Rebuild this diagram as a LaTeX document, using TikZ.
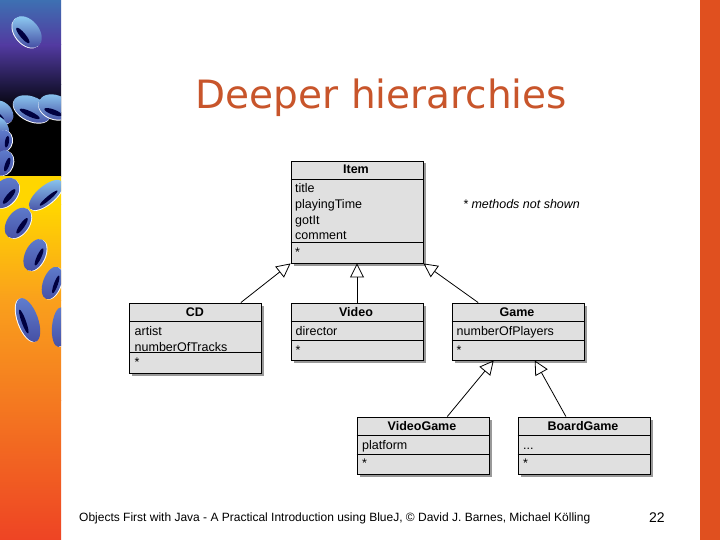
\documentclass[tikz,border=0pt]{standalone}
\usepackage{fontspec}
\setmainfont{Liberation Sans}
\newfontfamily\titlefont{DejaVu Sans}
\usetikzlibrary{arrows.meta,shadows}

\definecolor{bandA}{RGB}{62,112,178}
\definecolor{bandB}{RGB}{82,58,160}
\definecolor{bandC}{RGB}{30,24,66}
\definecolor{bandD}{RGB}{0,0,0}
\definecolor{bandE}{RGB}{255,214,0}
\definecolor{bandF}{RGB}{250,160,28}
\definecolor{bandG}{RGB}{244,122,32}
\definecolor{bandH}{RGB}{238,68,36}
\definecolor{sidebar}{RGB}{224,80,31}
\definecolor{headline}{RGB}{200,85,43}
\definecolor{classgray}{RGB}{224,224,224}
\definecolor{pillLight}{RGB}{140,200,240}
\definecolor{pillMid}{RGB}{95,125,205}
\definecolor{pillDark}{RGB}{70,80,165}

\tikzset{
	classbox/.style = {draw, line width = 0.9pt, fill = classgray, minimum width = 132pt, inner sep = 0pt,
			drop shadow = {shadow xshift = 2.5pt, shadow yshift = -2.5pt, fill = black, opacity = 0.4}},
	classname/.style = {anchor = base, inner sep = 0pt, font = \fontsize{12.5}{15}\selectfont\bfseries},
	attr/.style = {anchor = base west, inner sep = 0pt, font = \fontsize{12.5}{15}\selectfont},
	isa/.style = {-{Triangle[open, length = 14pt, width = 14pt]}, line width = 0.8pt}
}

\begin{document}
\begin{tikzpicture}[x = 1pt, y = -1pt]
			      \useasboundingbox (0,0) rectangle (720,540);
			      \fill [white] (0,0) rectangle (720,540);

			      \foreach \ya/\yb/\ca/\cb in {0/45/bandA/bandB, 45/85/bandB/bandC, 85/113/bandC/bandD, 113/177/bandD/bandD,
					      177/205/bandE/bandE, 205/300/bandE/bandF, 300/400/bandF/bandG, 400/540/bandG/bandH}{
					      \shade [top color = \ca, bottom color = \cb] (0,\ya) rectangle (61,\yb);
				      }
			      \fill [sidebar] (700,0) rectangle (720,540);

			      \begin{scope}
				      \clip (0,0) rectangle (61,540);
				      \foreach \px/\py/\ra/\rb/\rr/\pc in {27/32/18/12/-50/pillLight, 1/112/14/10/-40/pillLight, 32/109/20/12/-25/pillLight, 55/107/17/12/-20/pillLight,
						      -1/128/13/9/-60/pillLight, 3/141/11/9/80/pillMid, 3/163/13/10/70/pillMid, 5/193/17/12/50/pillMid, 46/195/21/9/40/pillLight,
						      18/223/17/11/55/pillMid, 35/255/17/10/65/pillMid, 52/283/17/9/70/pillMid, 28/320/23/10/-70/pillMid, 60/327/20/8/85/pillMid}{
						      \begin{scope}[shift = {(\px,\py)}, rotate = \rr]
							      \fill [white] (0,1) ellipse ({\ra} and {\rb});
							      \shade [top color = \pc, bottom color = pillDark] (0,0) ellipse ({\ra} and {\rb});
							      \fill [black!75!blue] (0,{\rb*0.45}) ellipse ({\ra*0.55} and {\rb*0.22});
						      \end{scope}
					      }
			      \end{scope}

			      \node (title) [text = headline, font = \titlefont\fontsize{39}{46}\selectfont, anchor = base] at (381.5,109) {Deeper hierarchies};

			      \node (item) [classbox, minimum height = 102pt] at (357,212) {};
			      \node (cd) [classbox, minimum height = 70pt] at (195.5,338) {};
			      \node (video) [classbox, minimum height = 57pt] at (357,331.5) {};
			      \node (game) [classbox, minimum height = 57pt] at (518,331.5) {};
			      \node (videogame) [classbox, minimum height = 57pt] at (423,445.5) {};
			      \node (boardgame) [classbox, minimum height = 57pt] at (584,445.5) {};

			      \foreach \n/\ha/\hb in {item/19/82, cd/19/50, video/19/38, game/19/38, videogame/19/38, boardgame/19/38}{
					      \draw [line width = 0.7pt] (\n.north west)++(0,\ha)--++(132,0);
					      \draw [line width = 0.7pt] (\n.north west)++(0,\hb)--++(132,0);
				      }

			      \node (itemname) [classname] at (356,174) {Item};
			      \node (itemtitle) [attr] at (295,192.5) {title};
			      \node (itemtime) [attr] at (295,208.5) {playingTime};
			      \node (itemgot) [attr] at (295,224.5) {gotIt};
			      \node (itemcomment) [attr] at (295,240) {comment};
			      \node (itemdots) [attr] at (295,256.5) {*};

			      \node (cdname) [classname] at (195,316.5) {CD};
			      \node (cdartist) [attr] at (134.5,335) {artist};
			      \node (cdtracks) [attr] at (134.5,351) {numberOfTracks};
			      \node (cddots) [attr] at (134.5,366) {*};

			      \node (videoname) [classname] at (356,316.5) {Video};
			      \node (videodirector) [attr] at (295.5,335) {director};
			      \node (videodots) [attr] at (295.5,354.5) {*};

			      \node (gamename) [classname] at (517,316.5) {Game};
			      \node (gameplayers) [attr] at (456.5,335) {numberOfPlayers};
			      \node (gamedots) [attr] at (456.5,354.5) {*};

			      \node (videogamename) [classname] at (422,430) {VideoGame};
			      \node (videogameplatform) [attr] at (362,449) {platform};
			      \node (videogamedots) [attr] at (362,467.5) {*};

			      \node (boardgamename) [classname] at (583,430) {BoardGame};
			      \node (boardgameattr) [attr] at (523,449) {...};
			      \node (boardgamedots) [attr] at (523,467.5) {*};

			      \node (note) [anchor = base west, inner sep = 0pt, font = \fontsize{12.5}{14}\selectfont\itshape] at (463,209) {* methods not shown};

			      \draw [isa] (cd.38) -- (item.south west);
			      \draw [isa] (video.north) -- (item.south);
			      \draw [isa] (game.144) -- (item.south east);
			      \draw [isa] (videogame.50) -- (game.230);
			      \draw [isa] (boardgame.122) -- (game.300);

			      \node (footer) [anchor = base west, inner sep = 0pt, font = \fontsize{12}{14}\selectfont] at (79,521) {Objects First with Java - A Practical Introduction using BlueJ, © David J. Barnes, Michael Kölling};
			      \node (pagenum) [anchor = base west, inner sep = 0pt, font = \fontsize{14}{16}\selectfont] at (649,522.5) {22};
		      \end{tikzpicture}
\end{document}
